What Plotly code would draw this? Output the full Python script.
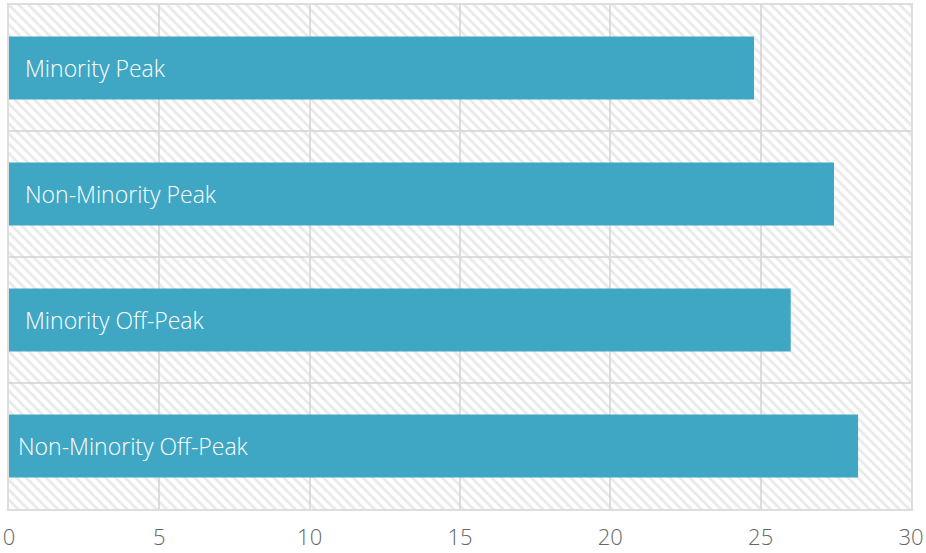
import plotly.graph_objects as go

categories = ["Minority Peak", "Non-Minority Peak", "Minority Off-Peak", "Non-Minority Off-Peak"]
values = [24.78, 27.44, 26.0, 28.24]
x_ticks = [0, 5, 10, 15, 20, 25, 30]
x_max = 30
label_shift = [14, 14, 14, 7]

fig = go.Figure()

# hatched background bands (transparent so gridlines show through)
fig.add_trace(go.Bar(
    y=categories, x=[x_max] * len(categories), orientation="h", width=1,
    marker=dict(color="rgba(0,0,0,0)", line=dict(width=0),
                pattern=dict(shape="\\", fgcolor="#d4d4d4", bgcolor="rgba(0,0,0,0)", size=7, solidity=0.4)),
    hoverinfo="skip", showlegend=False,
))

fig.add_trace(go.Bar(
    y=categories, x=values, orientation="h", width=0.5,
    marker=dict(color="#3fa7c4", line=dict(width=0)),
    showlegend=False,
))

for c, s in zip(categories, label_shift):
    fig.add_annotation(x=0, y=c, text=c, showarrow=False, xanchor="left", xshift=s,
                       font=dict(family="Open Sans", size=23, color="white", weight=300))

fig.update_layout(
    width=926, height=553,
    margin=dict(l=9, r=15, t=5, b=44),
    barmode="overlay",
    paper_bgcolor="white", plot_bgcolor="white",
    font=dict(family="Open Sans", size=22, color="#666666"),
    xaxis=dict(range=[0, x_max], tickvals=x_ticks, showgrid=True, gridcolor="#dddddd", gridwidth=2,
               zeroline=False, showline=True, linecolor="#dddddd", linewidth=2, mirror=True,
               ticks="outside", ticklen=8, tickcolor="rgba(0,0,0,0)", automargin=False,
               tickfont=dict(size=22, color="#666666", weight=300), fixedrange=True),
    yaxis=dict(categoryorder="array", categoryarray=categories, autorange="reversed",
               tickson="boundaries", showgrid=True, gridcolor="#dddddd", gridwidth=2,
               showticklabels=False, ticks="", showline=True, linecolor="#dddddd", linewidth=2,
               mirror=True, zeroline=False, range=[-0.5, 3.5], automargin=False),
)

fig.write_html("out.html")
